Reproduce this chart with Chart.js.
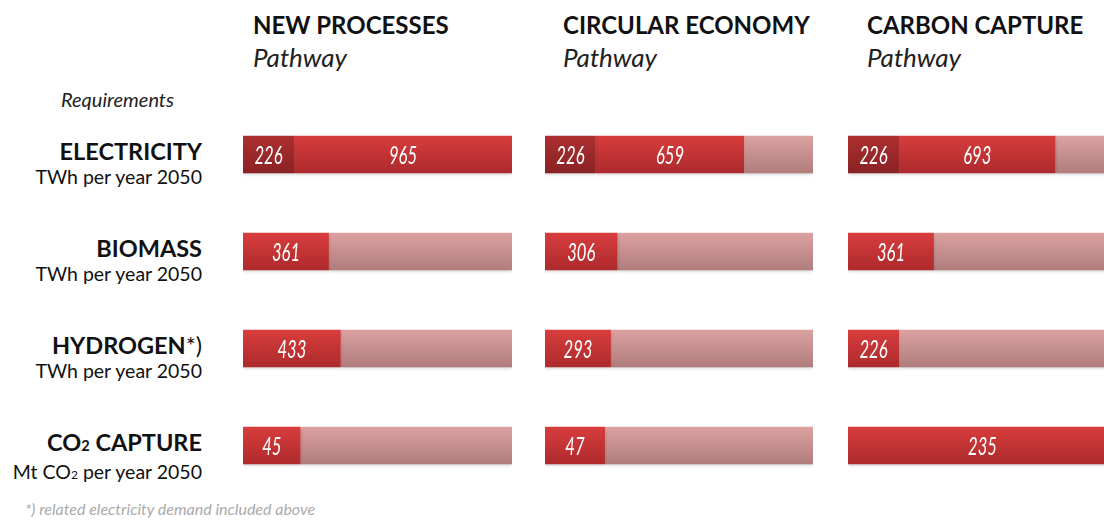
<!DOCTYPE html>
<html>
<head>
<meta charset="utf-8">
<script src="https://cdn.jsdelivr.net/npm/chart.js@4"></script>
<style>
  body { margin: 0; width: 1104px; height: 523px; overflow: hidden; background: #fff; font-family: Lato, "Open Sans", sans-serif; position: relative; }
  .abs { position: absolute; white-space: nowrap; }
  .head { font-weight: bold; font-size: 24px; color: #111; }
  .path { font-style: italic; font-size: 26px; color: #222; }
  .row { text-align: right; width: 202px; left: 0; }
  .row .name { font-weight: bold; font-size: 23.5px; line-height: 26px; color: #111; }
  .row .unit { font-size: 19.5px; line-height: 26px; color: #111; }
  .sub2 { font-size: 0.62em; }
  canvas { position: absolute; }
</style>
</head>
<body>
<div id="labels"></div>
<canvas id="p0"></canvas>
<canvas id="p1"></canvas>
<canvas id="p2"></canvas>
<script>
// pathways and requirement rows
const pathways = ['NEW PROCESSES', 'CIRCULAR ECONOMY', 'CARBON CAPTURE'];
const rows = ['ELECTRICITY', 'BIOMASS', 'HYDROGEN', 'CO2 CAPTURE'];
const units = ['TWh per year 2050', 'TWh per year 2050', 'TWh per year 2050', 'Mt CO2 per year 2050'];

// electricity base demand (dark segment), only in the first row
const baseDemand = [226, 0, 0, 0];
// additional requirement per pathway
const newProcesses = [965, 361, 433, 45];
const circularEconomy = [659, 306, 293, 47];
const carbonCapture = [693, 361, 226, 235];
// full bar length per row (same units as the row)
const rowScale = [1191, 1130, 1191, 210];

const pathwayValues = [newProcesses, circularEconomy, carbonCapture];

// ---- html text ----
const lab = document.getElementById('labels');
const headX = [253, 563, 867];
pathways.forEach((p, i) => {
  lab.innerHTML += `<div class="abs head" style="left:${headX[i]}px;top:10px">${p}</div>`;
  lab.innerHTML += `<div class="abs path" style="left:${headX[i]}px;top:41px">Pathway</div>`;
});
lab.innerHTML += `<div class="abs" style="left:61px;top:87px;font-style:italic;font-size:20px;color:#222">Requirements</div>`;
const rowTop = [138, 234.5, 331.5, 429];
const sub = s => s.replace('CO2', 'CO<span class="sub2">2</span>');
rows.forEach((r, i) => {
  let name = sub(r);
  if (r === 'HYDROGEN') name += '<span style="font-weight:normal">*)</span>';
  lab.innerHTML += `<div class="abs row" style="top:${rowTop[i]}px"><div class="name">${name}</div><div class="unit">${sub(units[i])}</div></div>`;
});
lab.innerHTML += `<div class="abs" style="left:25px;top:499px;font-style:italic;font-size:16px;color:#aaa">*) related electricity demand included above</div>`;

// ---- charts ----
// vertical gradient across each bar
function grad(top, bottom) {
  return function(c) {
    const ys = c.chart.scales.y;
    if (!ys) return top;
    const y = ys.getPixelForValue(c.dataIndex);
    if (!isFinite(y)) return top;
    const g = c.chart.ctx.createLinearGradient(0, y - 19, 0, y + 19);
    g.addColorStop(0, top);
    g.addColorStop(1, bottom);
    return g;
  };
}

const valueLabels = {
  id: 'valueLabels',
  beforeDatasetsDraw(chart) {
    const ctx = chart.ctx;
    ctx.save();
    ctx.shadowColor = 'rgba(0,0,0,0.18)';
    ctx.shadowOffsetY = 2;
    ctx.shadowBlur = 3;
  },
  afterDatasetsDraw(chart) {
    const ctx = chart.ctx;
    ctx.restore();
    ctx.save();
    ctx.fillStyle = '#fff';
    ctx.font = 'italic 26px Lato, sans-serif';
    ctx.textAlign = 'center';
    ctx.textBaseline = 'middle';
    chart.data.datasets.forEach((ds, di) => {
      if (!ds.raw) return;
      chart.getDatasetMeta(di).data.forEach((el, i) => {
        const v = ds.raw[i];
        if (!v) return;
        const right = Math.min(el.x, chart.chartArea.right);
        const cx = (el.base + right) / 2;
        ctx.save();
        ctx.translate(cx, el.y + 1);
        ctx.scale(0.64, 1);
        ctx.fillText(String(v), 0, 0);
        ctx.restore();
      });
    });
    ctx.restore();
  }
};

const panelLeft = [243, 545, 848];
const panelWidth = [269, 268, 269];

pathwayValues.forEach((vals, p) => {
  const cv = document.getElementById('p' + p);
  cv.width = panelWidth[p];
  cv.height = 388;
  cv.style.left = panelLeft[p] + 'px';
  cv.style.top = '106px';
  const pct = (v, i) => v / rowScale[i] * 100;
  const basePct = baseDemand.map(pct);
  const addPct = vals.map(pct);
  const restPct = vals.map((v, i) => Math.max(0, 100 - basePct[i] - addPct[i]));
  new Chart(cv.getContext('2d'), {
    type: 'bar',
    data: {
      labels: rows,
      datasets: [
        { label: 'base', data: basePct, raw: baseDemand, backgroundColor: grad('#ac2f30', '#8a2224') },
        { label: 'pathway', data: addPct, raw: vals, backgroundColor: grad('#d83d3d', '#ad2a2c') },
        { label: 'rest', data: restPct, backgroundColor: grad('#dca2a2', '#b07c7c') }
      ]
    },
    options: {
      indexAxis: 'y',
      responsive: false,
      animation: false,
      layout: { padding: 0 },
      datasets: { bar: { barPercentage: 0.385, categoryPercentage: 1, borderWidth: 0 } },
      scales: {
        x: { display: false, stacked: true, min: 0, max: 100 },
        y: { display: false, stacked: true }
      },
      plugins: { legend: { display: false }, tooltip: { enabled: false } }
    },
    plugins: [valueLabels]
  });
});
</script>
</body>
</html>
